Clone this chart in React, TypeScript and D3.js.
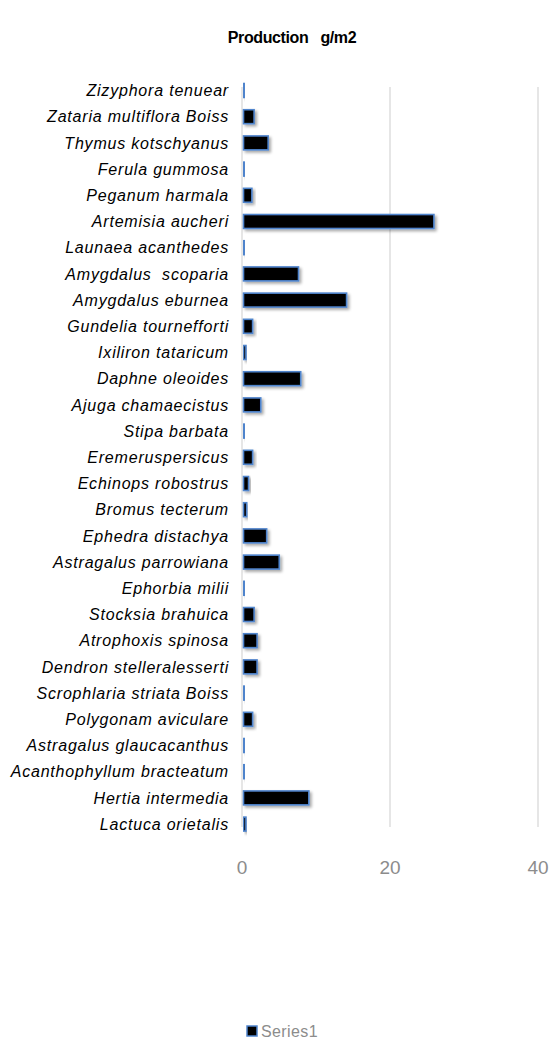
import React from "react";
import * as d3 from "d3";

const species = [
  "Zizyphora tenuear",
  "Zataria multiflora Boiss",
  "Thymus kotschyanus",
  "Ferula gummosa",
  "Peganum harmala",
  "Artemisia aucheri",
  "Launaea acanthedes",
  "Amygdalus  scoparia",
  "Amygdalus eburnea",
  "Gundelia tournefforti",
  "Ixiliron tataricum",
  "Daphne oleoides",
  "Ajuga chamaecistus",
  "Stipa barbata",
  "Eremeruspersicus",
  "Echinops robostrus",
  "Bromus tecterum",
  "Ephedra distachya",
  "Astragalus parrowiana",
  "Ephorbia milii",
  "Stocksia brahuica",
  "Atrophoxis spinosa",
  "Dendron stelleralesserti",
  "Scrophlaria striata Boiss",
  "Polygonam aviculare",
  "Astragalus glaucacanthus",
  "Acanthophyllum bracteatum",
  "Hertia intermedia",
  "Lactuca orietalis",
];

const production = [
  0.2, 1.5, 3.4, 0.15, 1.2, 25.8, 0.2, 7.5, 14, 1.3, 0.4, 7.8, 2.4, 0.15, 1.3,
  0.75, 0.5, 3.2, 4.9, 0.15, 1.5, 1.9, 1.9, 0.15, 1.3, 0.15, 0.15, 8.9, 0.4,
];

const ticks = [0, 20, 40];

const W = 554;
const H = 1041;

export default function App() {
  const x = d3.scaleLinear().domain([0, 40]).range([242, 538]);
  const y = d3
    .scaleBand<string>()
    .domain(species)
    .range([77.4, 837.2])
    .paddingInner(0.43)
    .paddingOuter(0.215);

  const bh = y.bandwidth();

  return (
    <svg
      width={W}
      height={H}
      style={{ position: "absolute", left: 0, top: 0, background: "#fff" }}
      fontFamily="'Liberation Sans', Arial, sans-serif"
    >
      <defs>
        <filter id="shadow" x="-20%" y="-40%" width="160%" height="200%">
          <feGaussianBlur in="SourceAlpha" stdDeviation="1.5" />
          <feOffset dx="1.5" dy="2" result="b" />
          <feComponentTransfer>
            <feFuncA type="linear" slope="0.35" />
          </feComponentTransfer>
          <feMerge>
            <feMergeNode />
            <feMergeNode in="SourceGraphic" />
          </feMerge>
        </filter>
      </defs>

      <text
        x={292}
        y={43}
        textAnchor="middle"
        fontWeight="bold"
        fontSize={16}
        letterSpacing={-0.4}
        fill="#000"
        style={{ whiteSpace: "pre" }}
      >
        {"Production   g/m2"}
      </text>

      {ticks.map((t) => (
        <line
          key={`grid/${t}`}
          x1={x(t)}
          x2={x(t)}
          y1={87}
          y2={827}
          stroke="#d9d9d9"
          strokeWidth={1.3}
        />
      ))}

      {species.map((s, i) => (
        <g key={`bar/${i}`}>
          <rect
            x={x(0) + 1.5}
            y={(y(s) ?? 0) + 0.5}
            width={Math.max(x(production[i]) - x(0) - 0.5, 1)}
            height={bh - 1}
            fill="#000"
            stroke="#4f84cc"
            strokeWidth={1.6}
            filter="url(#shadow)"
          />
          <text
            x={229}
            y={(y(s) ?? 0) + bh / 2}
            dy="0.35em"
            textAnchor="end"
            fontStyle="italic"
            fontSize={16}
            letterSpacing={0.8}
            fill="#000"
            style={{ whiteSpace: "pre" }}
          >
            {s}
          </text>
        </g>
      ))}

      {ticks.map((t) => (
        <text
          key={`tick/${t}`}
          x={x(t)}
          y={874}
          textAnchor="middle"
          fontSize={19}
          fill="#8c8c8c"
        >
          {t}
        </text>
      ))}

      <rect x={247} y={1026} width={10} height={10} fill="#000" stroke="#4f84cc" strokeWidth={1.5} />
      <text x={261} y={1037} fontSize={16} fill="#8c8c8c" letterSpacing={0.4}>
        Series1
      </text>
    </svg>
  );
}
